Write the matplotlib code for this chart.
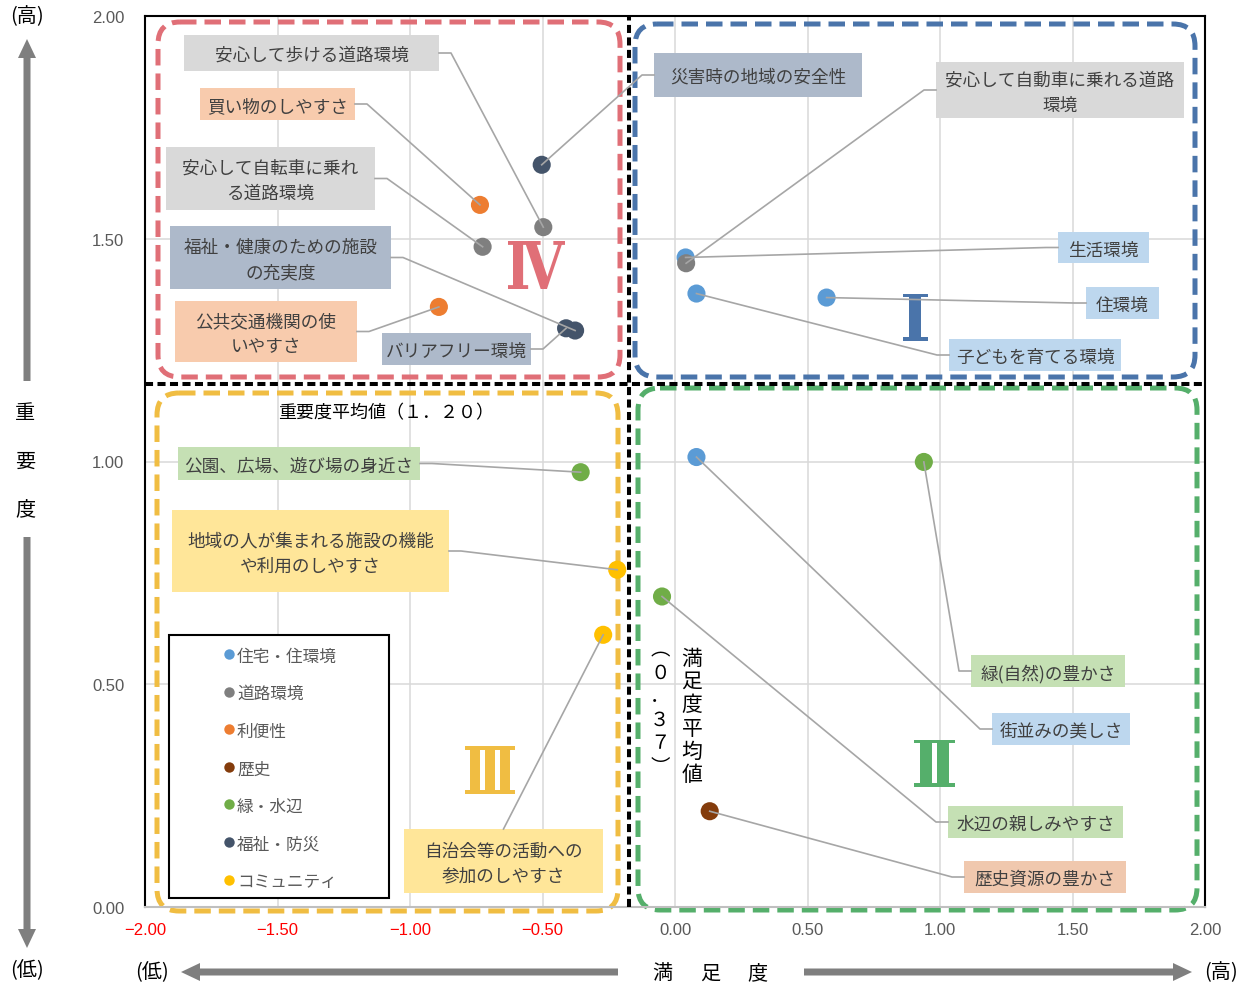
import matplotlib
matplotlib.use("Agg")
import matplotlib.pyplot as plt
from matplotlib.patches import FancyBboxPatch, Rectangle, PathPatch, FancyArrow
from matplotlib.lines import Line2D
from matplotlib.textpath import TextPath
from matplotlib.font_manager import FontProperties
from matplotlib.transforms import Affine2D

plt.rcParams['font.family'] = ['Noto Sans CJK JP', 'DejaVu Sans']

# ---------------- data ----------------
series_names = ["住宅・住環境", "道路環境", "利便性", "歴史", "緑・水辺", "福祉・防災", "コミュニティ"]
series_colors = ["#5B9BD5", "#7F7F7F", "#ED7D31", "#843C0C", "#70AD47", "#44546A", "#FFC000"]
series_label_bg = ["#BDD7EE", "#D9D9D9", "#F8CBAD", "#F0C8AE", "#C5E0B4", "#ADB9CA", "#FFE699"]

item_labels = [
    "安心して歩ける道路環境",
    "買い物のしやすさ",
    "安心して自転車に乗れ\nる道路環境",
    "福祉・健康のための施設\nの充実度",
    "公共交通機関の使\nいやすさ",
    "バリアフリー環境",
    "災害時の地域の安全性",
    "安心して自動車に乗れる道路\n環境",
    "生活環境",
    "住環境",
    "子どもを育てる環境",
    "公園、広場、遊び場の身近さ",
    "地域の人が集まれる施設の機能\nや利用のしやすさ",
    "自治会等の活動への\n参加のしやすさ",
    "緑(自然)の豊かさ",
    "街並みの美しさ",
    "水辺の親しみやすさ",
    "歴史資源の豊かさ",
]
item_series = [1, 2, 1, 5, 2, 5, 5, 1, 0, 0, 0, 4, 6, 6, 4, 0, 4, 3]
satisfaction = [-0.497, -0.736, -0.726, -0.377, -0.891, -0.411, -0.503, 0.042, 0.040, 0.572,
                0.081, -0.356, -0.218, -0.271, 0.939, 0.081, -0.049, 0.131]
importance = [1.526, 1.576, 1.482, 1.294, 1.347, 1.299, 1.666, 1.445, 1.458, 1.368,
              1.377, 0.976, 0.757, 0.611, 0.999, 1.010, 0.697, 0.215]

x_ticks = [-2.0, -1.5, -1.0, -0.5, 0.0, 0.5, 1.0, 1.5, 2.0]
y_ticks = [0.0, 0.5, 1.0, 1.5, 2.0]

sat_mean_pos = -0.172
imp_mean_pos = 1.174
sat_mean_label = "︵０．３７︶"
imp_mean_label = "重要度平均値（１．２０）"

# ---------------- layout (image pixels, origin top-left) ----------------
W, H = 1248, 987
TY = 2  # small vertical text offset in pixels
# label boxes: x0, y0, x1, y1, leader side
label_boxes = [
    (184, 36, 439, 72, 'r'),
    (200, 89, 355, 121, 'r'),
    (166, 148, 375, 211, 'r'),
    (170, 227, 391, 290, 'r'),
    (175, 302, 357, 363, 'r'),
    (382, 334, 531, 366, 'r'),
    (654, 54, 862, 98, 'l'),
    (936, 63, 1184, 119, 'l'),
    (1058, 233, 1149, 264, 'l'),
    (1086, 288, 1159, 320, 'l'),
    (949, 340, 1121, 372, 'l'),
    (178, 448, 420, 481, 'r'),
    (172, 511, 449, 593, 'r'),
    (404, 830, 603, 894, 't'),
    (971, 656, 1125, 688, 'l'),
    (992, 714, 1130, 746, 'l'),
    (948, 807, 1123, 839, 'l'),
    (964, 862, 1126, 894, 'l'),
]

fig = plt.figure(figsize=(W / 100, H / 100), dpi=100)
ax = fig.add_axes([145 / W, 1 - 908 / H, 1060 / W, 891 / H])
ax.set_xlim(-2, 2)
ax.set_ylim(0, 2)

T = Affine2D().scale(1, -1).translate(0, H)


def to_px(x, y):
    d = ax.transData.transform((x, y))
    return d[0], H - d[1]


# grid
ax.set_xticks(x_ticks)
ax.set_yticks(y_ticks)
ax.grid(True, color="#D9D9D9", lw=1.1, zorder=0)
ax.set_axisbelow(True)
ax.set_xticklabels([("\u2212" if v < 0 else "") + f"{abs(v):.2f}" for v in x_ticks],
                   fontfamily="Liberation Sans", fontsize=12)
ax.set_yticklabels([f"{v:.2f}" for v in y_ticks], fontfamily="Liberation Sans",
                   fontsize=12, color="#595959")
for lbl, v in zip(ax.get_xticklabels(), x_ticks):
    lbl.set_color("#FF0000" if v < 0 else "#595959")
ax.tick_params(axis="both", length=0)
ax.tick_params(axis="y", pad=15)
ax.tick_params(axis="x", pad=10.5)
for s in ["left", "top", "right"]:
    ax.spines[s].set_color("black")
    ax.spines[s].set_linewidth(1.5)
ax.spines["bottom"].set_color("#BFBFBF")
ax.spines["bottom"].set_linewidth(1.5)

# quadrant boxes (pixel layout)
quads = [
    (158, 23, 620, 378, "#E06F77"),
    (635, 25, 1195, 378, "#4A74AA"),
    (157, 394, 618, 912, "#F0BD42"),
    (638, 389, 1197, 911, "#55AF6B"),
]
for x0, y0, x1, y1, c in quads:
    p = FancyBboxPatch((x0, y0), x1 - x0, y1 - y0, boxstyle="round,pad=0,rounding_size=22",
                       transform=T, fill=False, edgecolor=c, lw=3.6,
                       linestyle=(0, (3.3, 1.6)), clip_on=False, zorder=2)
    ax.add_patch(p)

# mean lines
ax.axvline(sat_mean_pos, color="black", lw=2.9, linestyle=(0, (2.0, 1.1)), zorder=3)
ax.axhline(imp_mean_pos, color="black", lw=2.9, linestyle=(0, (2.0, 1.1)), zorder=3)

# mean labels
ax.text(386, 411 + TY, imp_mean_label, transform=T, ha="center", va="center", fontsize=13,
        color="black", zorder=5)
for i, ch in enumerate("満足度平均値"):
    ax.text(692, 657 + TY + i * 23.2, ch, transform=T, ha="center", va="center", fontsize=15,
            color="black", zorder=5)
for i, ch in enumerate(sat_mean_label):
    ax.text(660, 648 + TY + i * 23.5, ch, transform=T, ha="center", va="center", fontsize=14,
            color="black", zorder=5)

# roman numerals
fp_roman = FontProperties(family="DejaVu Serif", weight="bold")
romans = [("Ⅳ", 536.5, 266, 57, 48, "#E06F77"),
          ("Ⅰ", 915, 318, 25, 47, "#4A74AA"),
          ("Ⅱ", 934.5, 764, 41, 47, "#55AF6B"),
          ("Ⅲ", 490, 771, 50, 48, "#F0BD42")]
for s, cx, cy, w, h, c in romans:
    tp = TextPath((0, 0), s, size=100, prop=fp_roman)
    ext = tp.get_extents()
    tr = (Affine2D().translate(-ext.x0 - ext.width / 2, -ext.y0 - ext.height / 2)
          .scale(w / ext.width, -h / ext.height).translate(cx, cy) + T)
    ax.add_patch(PathPatch(tp, transform=tr, facecolor=c, lw=0, zorder=4, clip_on=False))

# scatter points
for k in range(len(series_names)):
    xs = [satisfaction[i] for i in range(len(item_labels)) if item_series[i] == k]
    ys = [importance[i] for i in range(len(item_labels)) if item_series[i] == k]
    ax.scatter(xs, ys, s=170, color=series_colors[k], edgecolors="none", zorder=6,
               clip_on=False)

# label boxes and leader lines
for i, lab in enumerate(item_labels):
    x0, y0, x1, y1, side = label_boxes[i]
    bg = series_label_bg[item_series[i]]
    ax.add_patch(Rectangle((x0, y0), x1 - x0, y1 - y0, transform=T, facecolor=bg,
                           edgecolor="none", zorder=4, clip_on=False))
    cx, cy = (x0 + x1) / 2, (y0 + y1) / 2
    ax.text(cx, cy + TY, lab, transform=T, ha="center", va="center", multialignment="center",
            fontsize=12.7, color="#404040", linespacing=1.5, zorder=5)
    px, py = to_px(satisfaction[i], importance[i])
    if side == 'r':
        pts = [(x1, cy), (x1 + 12, cy), (px, py)]
    elif side == 'l':
        pts = [(x0, cy), (x0 - 12, cy), (px, py)]
    else:
        pts = [(cx, y0), (px, py)]
    ax.add_line(Line2D([p[0] for p in pts], [p[1] for p in pts], transform=T,
                       color="#A6A6A6", lw=1.2, zorder=7, clip_on=False))

# legend (manual)
ax.add_patch(Rectangle((169, 636), 220, 263, transform=T, facecolor="white",
                       edgecolor="black", lw=1.5, zorder=8, clip_on=False))
for k, name in enumerate(series_names):
    yy = 655 + k * 37.6
    ax.add_line(Line2D([229], [yy], transform=T, marker="o", markersize=7.5,
                       markerfacecolor=series_colors[k], markeredgecolor="none",
                       linestyle="none", zorder=9, clip_on=False))
    ax.text(237, yy + TY, name, transform=T, ha="left", va="center", fontsize=12,
            color="#595959", zorder=9)

# outer axis annotations
arrow_c = "#7F7F7F"
arrows = [((27, 382), (27, 40)), ((27, 538), (27, 949)),
          ((618, 973), (181, 973)), ((804, 973), (1192, 973))]
for (xa, ya), (xb, yb) in arrows:
    fig.add_artist(FancyArrow(xa, ya, xb - xa, yb - ya, width=7, head_width=18,
                              head_length=19, length_includes_head=True,
                              transform=T, color=arrow_c, lw=0))

outer_texts = [("(高)", 27, 15), ("(低)", 27, 969), ("(低)", 152, 971), ("(高)", 1221, 971),
               ("重", 25, 412), ("要", 25, 460), ("度", 25, 508),
               ("満", 662, 972), ("足", 710, 972), ("度", 757, 972)]
for s, x, y in outer_texts:
    fig.text(x / W, 1 - (y + TY) / H, s, ha="center", va="center", fontsize=14.5,
             color="black")

fig.savefig("out.png", dpi=100)
